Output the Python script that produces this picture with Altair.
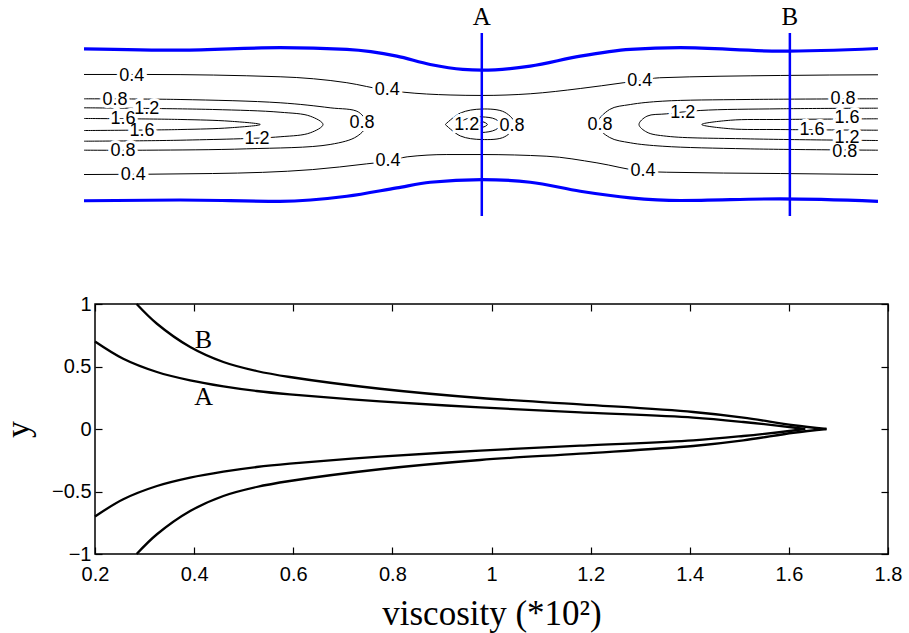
import altair as alt
import pandas as pd

# ---------------- bottom panel: viscosity profiles at sections A and B
A_visc = [0.200, 0.257, 0.325, 0.392, 0.459, 0.526, 0.593, 0.775, 0.977, 1.179, 1.407, 1.508, 1.609, 1.633,
          1.609, 1.508, 1.407, 1.179, 0.977, 0.775, 0.593, 0.526, 0.459, 0.392, 0.325, 0.257, 0.200]
A_y = [0.700, 0.562, 0.456, 0.389, 0.341, 0.304, 0.277, 0.221, 0.173, 0.133, 0.091, 0.056, 0.012, 0.000,
       -0.012, -0.056, -0.091, -0.133, -0.173, -0.221, -0.277, -0.304, -0.341, -0.389, -0.456, -0.562, -0.700]
B_visc = [0.284, 0.325, 0.392, 0.459, 0.526, 0.593, 0.775, 0.977, 1.179, 1.407, 1.508, 1.609, 1.676,
          1.609, 1.508, 1.407, 1.179, 0.977, 0.775, 0.593, 0.526, 0.459, 0.392, 0.325, 0.284]
B_y = [1.000, 0.842, 0.656, 0.536, 0.464, 0.416, 0.322, 0.248, 0.197, 0.136, 0.091, 0.030, 0.000,
       -0.030, -0.091, -0.136, -0.197, -0.248, -0.322, -0.416, -0.464, -0.536, -0.656, -0.842, -1.000]
prof_names = ["A", "B"]
prof_label_visc = [0.419, 0.419]
prof_label_y = [0.256, 0.714]
x_ticks = [0.2, 0.4, 0.6, 0.8, 1.0, 1.2, 1.4, 1.6, 1.8]
y_ticks = [-1, -0.5, 0, 0.5, 1]

# ---------------- top panel: channel walls, sections and viscosity contours
wall_top_x = [0.00, 1.21, 2.47, 3.31, 3.94, 4.36, 4.77, 5.01, 5.62, 6.25, 6.88, 7.51, 8.77, 10.00]
wall_top_y = [0.993, 0.975, 1.007, 0.984, 0.896, 0.787, 0.722, 0.713, 0.765, 0.896, 0.984, 1.007, 0.962, 0.997]
wall_bot_x = [0.00, 1.21, 2.47, 3.31, 3.94, 4.36, 5.01, 5.62, 6.25, 6.88, 7.51, 8.77, 10.00]
wall_bot_y = [-1.000, -0.990, -1.007, -0.941, -0.831, -0.757, -0.722, -0.757, -0.875, -0.962, -0.997, -0.975, -1.007]

section_names = ["A", "B"]
section_x = [5.01, 8.89]
section_y0 = [-1.2, -1.2]
section_y1 = [1.2, 1.2]

c04u_x = [0.00, 0.79, 2.47, 3.31, 3.81, 4.02, 4.61, 5.01, 5.62, 6.25, 6.79, 7.00, 7.25, 8.77, 10.00]
c04u_y = [0.656, 0.656, 0.626, 0.548, 0.450, 0.424, 0.387, 0.381, 0.403, 0.472, 0.547, 0.577, 0.613, 0.643, 0.652]
c04l_x = [0.00, 1.62, 2.88, 3.56, 3.83, 4.07, 4.57, 5.01, 5.83, 6.46, 7.04, 7.34, 8.77, 10.00]
c04l_y = [-0.656, -0.643, -0.591, -0.516, -0.482, -0.424, -0.394, -0.394, -0.416, -0.503, -0.613, -0.626, -0.643, -0.656]
c08l_x = [0.00, 1.21, 2.47, 3.10, 3.46, 3.56, 3.44, 3.10, 2.05, 0.79, 0.00]
c08l_y = [0.337, 0.328, 0.285, 0.219, 0.161, 0.000, -0.154, -0.262, -0.319, -0.337, -0.337]
c12l_x = [0.00, 1.62, 2.47, 2.85, 3.01, 2.85, 2.47, 1.21, 0.00]
c12l_y = [0.219, 0.197, 0.161, 0.109, 0.000, -0.109, -0.161, -0.206, -0.219]
c16l_x = [0.00, 1.21, 1.84, 2.22, 1.84, 1.21, 0.00]
c16l_y = [0.079, 0.066, 0.043, 0.000, -0.043, -0.066, -0.079]
c08c_x = [4.55, 4.74, 5.01, 5.30, 5.43, 5.30, 5.01, 4.74, 4.55]
c08c_y = [0.000, 0.150, 0.203, 0.160, 0.000, -0.160, -0.197, -0.150, 0.000]
c12c_x = [4.67, 4.85, 5.01, 5.18, 5.25, 5.18, 5.01, 4.85, 4.67]
c12c_y = [0.000, 0.085, 0.100, 0.070, 0.000, -0.070, -0.105, -0.085, 0.000]
c16c_x = [4.96, 5.02, 5.08, 5.02, 4.96]
c16c_y = [0.000, 0.035, 0.000, -0.035, 0.000]
c08r_x = [10.00, 8.35, 7.29, 6.88, 6.62, 6.46, 6.62, 6.88, 7.29, 8.35, 10.00]
c08r_y = [0.337, 0.328, 0.306, 0.262, 0.197, 0.000, -0.170, -0.240, -0.285, -0.319, -0.337]
c12r_x = [10.00, 8.77, 7.76, 7.34, 7.09, 6.99, 7.09, 7.34, 8.35, 10.00]
c12r_y = [0.214, 0.206, 0.184, 0.140, 0.109, 0.000, -0.101, -0.154, -0.188, -0.210]
c16r_x = [10.00, 8.77, 8.14, 7.78, 8.14, 8.77, 10.00]
c16r_y = [0.075, 0.066, 0.056, 0.000, -0.056, -0.066, -0.075]

lab_text = ["0.4", "0.4", "0.8", "1.2", "1.6", "1.6", "1.2", "0.8", "0.4", "0.8", "0.4",
            "1.2", "0.8", "0.4", "0.8", "1.2", "0.4", "0.8", "1.6", "1.6", "1.2", "0.8"]
lab_x = [0.60, 3.82, 0.39, 0.79, 0.49, 0.73, 2.18, 0.49, 0.62, 3.50, 3.83,
         4.82, 5.39, 7.00, 6.50, 7.54, 7.04, 9.56, 9.61, 9.17, 9.61, 9.58]
lab_y = [0.634, 0.450, 0.319, 0.197, 0.066, -0.088, -0.188, -0.350, -0.665, 0.022, -0.482,
         0.000, -0.022, 0.577, -0.013, 0.154, -0.613, 0.328, 0.079, -0.066, -0.171, -0.361]

# ---------------- tables
def seq_rows(name, xs, ys, xkey="x", ykey="y"):
    return [{"id": name, "idx": i, xkey: a, ykey: b} for i, (a, b) in enumerate(zip(xs, ys))]

def halves(name, vs, ys):
    tip = vs.index(max(vs))
    return (seq_rows(name + "_up", vs[:tip + 1], ys[:tip + 1], "visc", "y") +
            seq_rows(name + "_lo", vs[tip:], ys[tip:], "visc", "y"))

prof_df = pd.DataFrame(halves("A", A_visc, A_y) + halves("B", B_visc, B_y))
prof_lab_df = pd.DataFrame({"name": prof_names, "visc": prof_label_visc, "y": prof_label_y})

wall_df = pd.DataFrame(seq_rows("top", wall_top_x, wall_top_y) + seq_rows("bot", wall_bot_x, wall_bot_y))
sec_df = pd.DataFrame({"name": section_names, "x": section_x, "y0": section_y0, "y1": section_y1})
open_df = pd.DataFrame(seq_rows("c04u", c04u_x, c04u_y) + seq_rows("c04l", c04l_x, c04l_y))
loop_rows = []
for nm, xs, ys in [("c08l", c08l_x, c08l_y), ("c12l", c12l_x, c12l_y), ("c16l", c16l_x, c16l_y),
                   ("c08c", c08c_x, c08c_y), ("c12c", c12c_x, c12c_y), ("c16c", c16c_x, c16c_y),
                   ("c08r", c08r_x, c08r_y), ("c12r", c12r_x, c12r_y), ("c16r", c16r_x, c16r_y)]:
    loop_rows += seq_rows(nm, xs, ys)
loop_df = pd.DataFrame(loop_rows)
lab_df = pd.DataFrame({"t": lab_text, "x": lab_x, "y": lab_y})

SANS = "Liberation Sans"
SERIF = "Liberation Serif"
BLUE = "#0000ff"

# ---------------- top panel
txs = alt.Scale(domain=[0.1385, 10.126], nice=False, zero=False)
tys = alt.Scale(domain=[-1.2, 1.2], nice=False, zero=False)
X = alt.X("x:Q", scale=txs, axis=None)
Y = alt.Y("y:Q", scale=tys, axis=None)

open_c = alt.Chart(open_df).mark_line(color="black", strokeWidth=1, interpolate="monotone").encode(
    x=X, y=Y, detail="id:N", order="idx:Q")
loop_c = alt.Chart(loop_df).mark_line(color="black", strokeWidth=1, interpolate="catmull-rom").encode(
    x=X, y=Y, detail="id:N", order="idx:Q")
halo = alt.Chart(lab_df).mark_text(font=SANS, fontSize=18, color="white", stroke="white", strokeWidth=6).encode(
    x=X, y=Y, text="t:N")
labels = alt.Chart(lab_df).mark_text(font=SANS, fontSize=18, color="black").encode(
    x=X, y=Y, text="t:N")
walls = alt.Chart(wall_df).mark_line(color=BLUE, strokeWidth=3.2, interpolate="monotone").encode(
    x=X, y=Y, detail="id:N", order="idx:Q")
sections = alt.Chart(sec_df).mark_rule(color=BLUE, strokeWidth=2.5).encode(
    x=X, y=alt.Y("y0:Q", scale=tys, axis=None), y2="y1:Q")
sec_text = alt.Chart(sec_df).mark_text(font=SERIF, fontSize=25, color="black", baseline="alphabetic", dy=-8).encode(
    x=X, y=alt.Y("y1:Q", scale=tys, axis=None), text="name:N")

top = alt.layer(open_c, loop_c, halo, labels, walls, sections, sec_text).properties(
    width=793, height=183, view=alt.ViewBackground(stroke=None))

# ---------------- bottom panel
bxs = alt.Scale(domain=[0.2, 1.8], nice=False, zero=False)
bys = alt.Scale(domain=[-1, 1], nice=False, zero=False)

def ax(orient, values, labels=True, title=None, **kw):
    d = dict(orient=orient, values=values, tickSize=7, offset=-7, domain=False, grid=False,
             tickColor="black", tickWidth=1.2, labels=labels)
    if labels:
        d.update(labelFont=SANS, labelFontSize=20, labelColor="black", format="~g", labelFlush=False)
    if title is not None:
        d.update(title=title, titleFont=SERIF, titleFontWeight="normal", titleColor="black")
    else:
        d.update(title=None)
    d.update(kw)
    return alt.Axis(**d)

curves = alt.Chart(prof_df).mark_line(color="black", strokeWidth=2.3, interpolate="catmull-rom").encode(
    x=alt.X("visc:Q", scale=bxs, axis=ax("bottom", x_ticks, title="viscosity (*10²)",
                                          labelPadding=10, titleFontSize=35, titlePadding=12)),
    y=alt.Y("y:Q", scale=bys, axis=ax("left", y_ticks, title="y", labelPadding=4,
                                       titleFontSize=34, titlePadding=16)),
    detail="id:N", order="idx:Q")
frame_ticks = alt.Chart(prof_df).mark_line(opacity=0).encode(
    x=alt.X("visc:Q", scale=bxs, axis=ax("top", x_ticks, labels=False)),
    y=alt.Y("y:Q", scale=bys, axis=ax("right", y_ticks, labels=False)),
    detail="id:N", order="idx:Q")
prof_text = alt.Chart(prof_lab_df).mark_text(font=SERIF, fontSize=26, color="black").encode(
    x=alt.X("visc:Q", scale=bxs, axis=None), y=alt.Y("y:Q", scale=bys, axis=None), text="name:N")

bottom = alt.layer(curves, frame_ticks, prof_text).resolve_axis(x="independent", y="independent").properties(
    width=793, height=250, view=alt.ViewBackground(stroke="black", strokeWidth=1.5))

chart = alt.vconcat(top, bottom, spacing=75).properties(
    padding={"left": 0, "top": 5, "right": 5, "bottom": 5}, background="white")

chart.save("out.html", embed_options={"renderer": "svg", "actions": False})
